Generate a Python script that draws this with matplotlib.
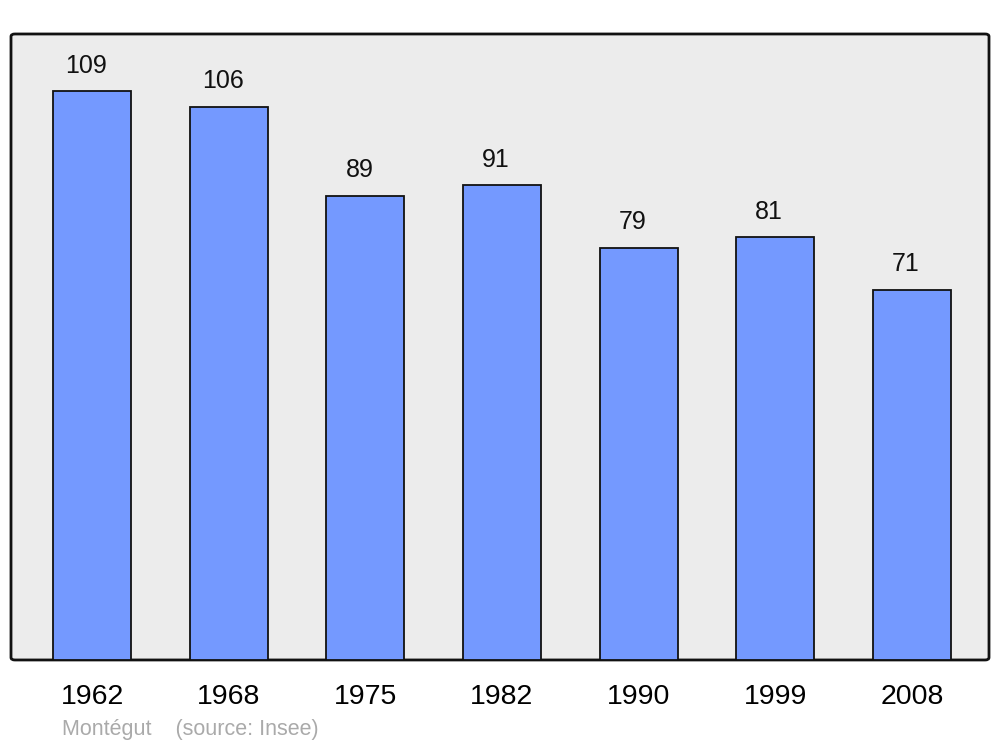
import matplotlib
matplotlib.use("Agg")
import matplotlib.pyplot as plt
from matplotlib.patches import FancyBboxPatch

years = ["1962", "1968", "1975", "1982", "1990", "1999", "2008"]
population = [109, 106, 89, 91, 79, 81, 71]

plt.rcParams['font.family'] = ['Liberation Sans', 'DejaVu Sans']

fig = plt.figure(figsize=(10, 7.47), dpi=100)
ax = fig.add_axes([0.011, 0.1165, 0.978, 0.838])
ax.set_facecolor('none')

bg = FancyBboxPatch((0, 0), 1, 1, boxstyle="round,pad=0,rounding_size=0.004",
                    transform=ax.transAxes, facecolor='#ECECEC', edgecolor='#111111',
                    linewidth=2, zorder=0, clip_on=False)
ax.add_patch(bg)

x = list(range(len(years)))
ax.bar(x, population, width=0.57, color='#7499FF', edgecolor='#111111',
       linewidth=1.3, zorder=2)
for xi, v in zip(x, population):
    ax.text(xi - 0.044, v + 4.9, str(v), ha='center', va='center', fontsize=18, color='#111111')

ax.set_xlim(-0.593, 6.564)
ax.set_ylim(0, 120)
for s in ax.spines.values():
    s.set_visible(False)
ax.set_yticks([])
ax.set_xticks(x)
ax.set_xticklabels(years, fontsize=20.5)
ax.tick_params(axis='x', length=0, pad=17)
for lbl in ax.get_xticklabels():
    lbl.set_x(lbl.get_position()[0])

fig.text(0.062, 0.0228, "Montégut    (source: Insee)", fontsize=15.5, color='#AAAAAA',
         ha='left', va='center')

fig.savefig("out.png", dpi=100, facecolor='white')
